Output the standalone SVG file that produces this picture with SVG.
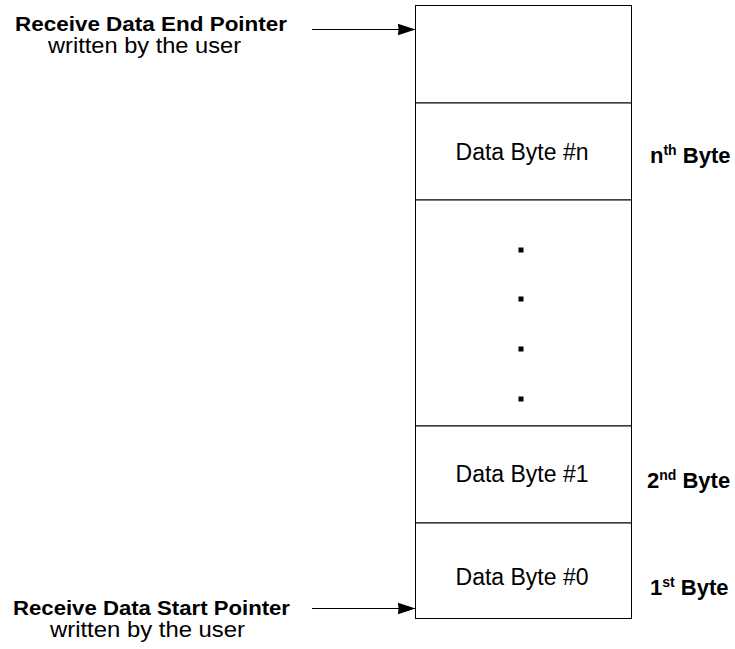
<svg xmlns="http://www.w3.org/2000/svg" width="735" height="649" viewBox="0 0 735 649">
  <style>
    .cell { fill: #fff; stroke: #000; stroke-width: 1; }
    .lbl { font-family: "Liberation Sans", Arial, sans-serif; fill: #000; }
    .b { font-weight: bold; font-size: 22px; }
    .ptr { font-weight: bold; font-size: 20px; }
    .r { font-size: 23px; }
    .sub { font-size: 22px; }
    .sup { font-size: 14px; }
    .edge { stroke: #000; stroke-width: 1; fill: none; marker-end: url(#head); }
  </style>
  <defs>
    <marker id="head" markerWidth="19" markerHeight="14" refX="18" refY="7" orient="auto" markerUnits="userSpaceOnUse">
      <path d="M0,1 L18,7 L0,13 Q2,7 0,1 Z" fill="#000"/>
    </marker>
  </defs>

  <rect width="735" height="649" fill="#fff"/>

  <!-- buffer cells, top to bottom -->
  <g id="cell-end">
    <rect class="cell" x="415.5" y="5.5" width="216" height="97.5"/>
  </g>
  <g id="cell-n">
    <rect class="cell" x="415.5" y="103" width="216" height="97"/>
    <text class="lbl r" x="522" y="160" text-anchor="middle">Data Byte #n</text>
  </g>
  <g id="cell-gap">
    <rect class="cell" x="415.5" y="200" width="216" height="226"/>
    <rect x="518.5" y="247.5" width="5" height="5" fill="#000"/>
    <rect x="518.5" y="296.5" width="5" height="5" fill="#000"/>
    <rect x="518.5" y="346.5" width="5" height="5" fill="#000"/>
    <rect x="518.5" y="396.5" width="5" height="5" fill="#000"/>
  </g>
  <g id="cell-1">
    <rect class="cell" x="415.5" y="426" width="216" height="97"/>
    <text class="lbl r" x="522" y="482" text-anchor="middle">Data Byte #1</text>
  </g>
  <g id="cell-0">
    <rect class="cell" x="415.5" y="523" width="216" height="95.5"/>
    <text class="lbl r" x="522" y="585" text-anchor="middle">Data Byte #0</text>
  </g>

  <!-- byte order labels -->
  <g id="label-nth">
    <text class="lbl b" x="650" y="163">n<tspan class="sup" dy="-8">th</tspan><tspan dy="8"> Byte</tspan></text>
  </g>
  <g id="label-2nd">
    <text class="lbl b" x="647" y="488">2<tspan class="sup" dy="-8">nd</tspan><tspan dy="8"> Byte</tspan></text>
  </g>
  <g id="label-1st">
    <text class="lbl b" x="650" y="595">1<tspan class="sup" dy="-8">st</tspan><tspan dy="8"> Byte</tspan></text>
  </g>

  <!-- pointer labels -->
  <g id="end-pointer">
    <text class="lbl ptr" x="15" y="31" textLength="272" lengthAdjust="spacingAndGlyphs">Receive Data End Pointer</text>
    <text class="lbl sub" x="48" y="53" textLength="193" lengthAdjust="spacingAndGlyphs">written by the user</text>
  </g>
  <g id="start-pointer">
    <text class="lbl ptr" x="13" y="614.5" textLength="277" lengthAdjust="spacingAndGlyphs">Receive Data Start Pointer</text>
    <text class="lbl sub" x="50" y="636.5" textLength="195" lengthAdjust="spacingAndGlyphs">written by the user</text>
  </g>

  <!-- connectors -->
  <g id="connectors">
    <line class="edge" x1="312" y1="29.5" x2="415.5" y2="29.5"/>
    <line class="edge" x1="312" y1="608.5" x2="415.5" y2="608.5"/>
  </g>
</svg>
